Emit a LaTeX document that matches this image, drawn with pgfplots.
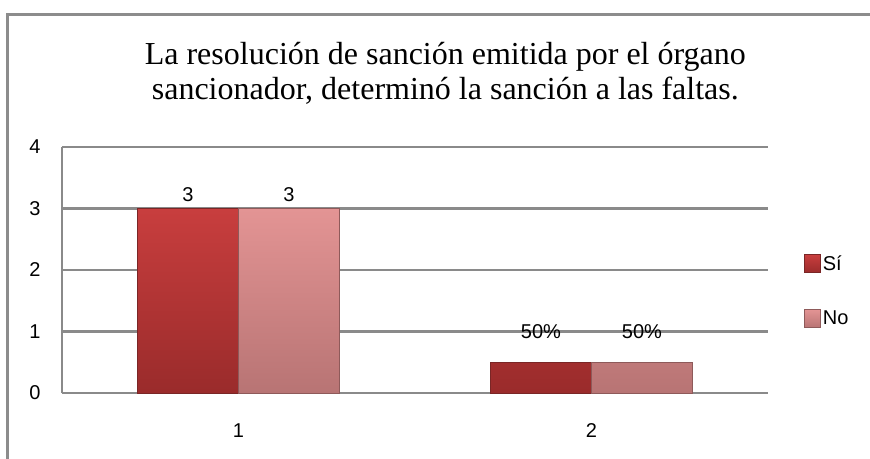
\documentclass[border=0pt]{standalone}
\usepackage{fontspec}
\setmainfont{Liberation Sans}
\newfontfamily\titlefont{Liberation Serif}
\usepackage{pgfplots}
\pgfplotsset{compat=1.18}
\definecolor{gridgray}{HTML}{8A8A8A}
\definecolor{framegray}{HTML}{8C8C8C}
\definecolor{siTop}{HTML}{C83E3E}
\definecolor{siBot}{HTML}{9A2B2B}
\definecolor{siEdge}{HTML}{7A2626}
\definecolor{noTop}{HTML}{E39494}
\definecolor{noBot}{HTML}{B87474}
\definecolor{noEdge}{HTML}{8E5A5A}

\begin{document}
\begin{tikzpicture}
\begin{axis}[
    at={(0,0)}, anchor=south west,
    width=706pt, height=246pt, scale only axis,
    xmin=0.5, xmax=2.5, ymin=0, ymax=4,
    xtick={1,2}, ytick={0,1,2,3,4},
    axis x line*=bottom, axis y line*=left,
    axis line style={draw=gridgray, line width=2.5pt, -},
    ymajorgrids, grid style={draw=gridgray, line width=2.5pt},
    major tick length=0pt,
    ybar=0pt, bar width=101pt,
    tick label style={font=\fontsize{20}{24}\selectfont},
    /pgf/number format/assume math mode=true,
    yticklabel style={xshift=-18pt},
    xticklabel style={yshift=-27pt},
    title={La resolución de sanción emitida por el órgano\\sancionador, determinó la sanción a las faltas.},
    title style={at={(axis description cs:0.543,1)}, anchor=center, yshift=68pt,
                 align=center, font=\titlefont\fontsize{32}{35}\selectfont},
    nodes near coords, point meta=explicit symbolic,
    visualization depends on={rawy \as \rawy},
    every node near coord/.append style={font=\fontsize{20}{24}\selectfont,
        yshift={ifthenelse(\rawy<1,20,3)}},
    legend style={at={(axis description cs:1.051,0.415)}, anchor=west,
                  draw=none, fill=none, font=\fontsize{20}{24}\selectfont,
                  row sep=35pt, inner sep=0pt, cells={anchor=west}},
    legend image code/.code={\draw[#1, line width=0.6pt] (0pt,-9pt) rectangle (16pt,9pt);},
  ]
\addplot[draw=siEdge, line width=1pt, top color=siTop, bottom color=siBot]
  coordinates {(1,3) [3] (2,0.5) [50\%]};
\addlegendentry{Sí}
\addplot[draw=noEdge, line width=1pt, top color=noTop, bottom color=noBot]
  coordinates {(1,3) [3] (2,0.5) [50\%]};
\addlegendentry{No}
\end{axis}
\path[use as bounding box] (-62pt,-65pt) rectangle (808pt,393pt);
\draw[framegray, line width=3pt] (-54pt,-66pt) -- (-54pt,378pt) -- (809pt,378pt);
\end{tikzpicture}
\end{document}
